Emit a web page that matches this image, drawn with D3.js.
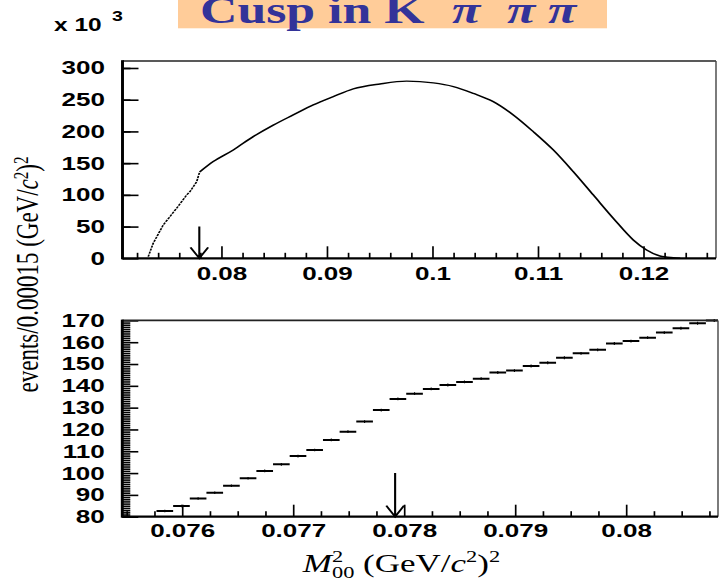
<!DOCTYPE html>
<html>
<head>
<meta charset="utf-8">
<script src="https://cdn.jsdelivr.net/npm/d3@7"></script>
<style>
    body { margin: 0; background: #fff; }
    svg { display: block; }
    .tick text { font-family: "Liberation Sans", Arial, sans-serif; font-weight: bold; font-size: 18.6px; fill: #000; }
    .serif { font-family: "Liberation Serif", "Times New Roman", serif; }
</style>
</head>
<body>
<div id="chart"></div>
<script>
// top panel: full M00^2 spectrum, events in units of 10^3 per bin
const topMass = [0.07308, 0.07355, 0.0745, 0.07577, 0.07672, 0.07703, 0.07767, 0.07795,
    0.07924, 0.08114, 0.08303, 0.08493, 0.08682, 0.08872, 0.09062, 0.09251, 0.09504,
    0.09757, 0.1001, 0.102, 0.10389, 0.10578, 0.10768, 0.10957, 0.11147, 0.11336,
    0.11526, 0.11716, 0.11905, 0.12031, 0.12158, 0.12284, 0.1235];
const topEvents = [2.5, 23.7, 52.5, 78.9, 99.8, 105, 120.8, 136,
    152.4, 170.8, 191.8, 210, 226, 241.8, 254.9, 267, 274.8,
    279.2, 276.5, 270.7, 260, 247, 226, 199.7, 170.8, 136.6,
    99.8, 63, 28.9, 13, 3.6, 1, 0.3];

// 2 m(pi+) squared, where the cusp sits
const cuspMass = 0.07792;

// bottom panel: zoom on the cusp, bins of 0.00015 GeV^2
const zoomFirstEdge = 0.07577;
const zoomBinWidth = 0.00015;
const zoomEvents = [82.6, 84.9, 88.4, 91.0, 94.2, 97.6, 101.0, 104.0, 107.8, 110.6,
    115.2, 119.0, 123.6, 128.9, 134.0, 136.4, 138.6, 140.4, 141.8, 143.3,
    146.1, 147.0, 149.1, 150.6, 152.9, 154.9, 156.5, 159.4, 160.5, 162.1,
    164.4, 166.4, 168.7, 169.9];

const topXTicks = [0.08, 0.09, 0.1, 0.11, 0.12];
const topXLabels = ["0.08", "0.09", "0.1", "0.11", "0.12"];
const topYTicks = [0, 50, 100, 150, 200, 250, 300];
const botXTicks = [0.076, 0.077, 0.078, 0.079, 0.08];
const botXLabels = ["0.076", "0.077", "0.078", "0.079", "0.08"];
const botYTicks = [80, 90, 100, 110, 120, 130, 140, 150, 160, 170];

// the original picture is stretched sideways, so draw in a narrower box and let the viewBox widen it
const S = 1.4;
const W = 719, H = 579;

const svg = d3.select("#chart")
    .append("svg")
    .attr("width", W)
    .attr("height", H)
    .attr("viewBox", `0 0 ${W / S} ${H}`)
    .attr("preserveAspectRatio", "none");

const topBox = { l: 122.5 / S, r: 716 / S, t: 61, b: 258.3 };
const botBox = { l: 122.3 / S, r: 718 / S, t: 320.4, b: 516.7 };

const xTop = d3.scaleLinear().domain([0.07064, 0.12689]).range([topBox.l, topBox.r]);
const yTop = d3.scaleLinear().domain([0, 311]).range([topBox.b, topBox.t]);
const xBot = d3.scaleLinear().domain([0.075462, 0.080829]).range([botBox.l, botBox.r]);
const yBot = d3.scaleLinear().domain([80, 170]).range([botBox.b, botBox.t]);

function minorTicks(lo, hi, step, majors) {
    return d3.range(Math.round(lo / step), Math.round(hi / step) + 1)
        .map(k => +(k * step).toFixed(6))
        .filter(v => !majors.some(m => Math.abs(m - v) < step / 10));
}

function drawAxes(box, x, y, xMaj, xLab, xMin, yMaj, yMin, xPad) {
    const gx = svg.append("g").attr("transform", `translate(0,${box.b})`);
    gx.append("g")
        .call(d3.axisBottom(x).tickValues(xMin).tickFormat("").tickSize(-5.5).tickSizeOuter(0))
        .call(g => g.select(".domain").remove());
    gx.append("g")
        .call(d3.axisBottom(x).tickValues(xMaj).tickFormat((d, i) => xLab[i])
            .tickSize(-12).tickPadding(xPad).tickSizeOuter(0))
        .call(g => g.select(".domain").remove());
    gx.selectAll("line").attr("stroke", "#000").attr("stroke-width", 1.2);

    const gy = svg.append("g").attr("transform", `translate(${box.l},0)`);
    gy.append("g")
        .call(d3.axisLeft(y).tickValues(yMin).tickFormat("").tickSize(-8 / S).tickSizeOuter(0))
        .call(g => g.select(".domain").remove());
    gy.append("g")
        .call(d3.axisLeft(y).tickValues(yMaj).tickSize(-16 / S).tickPadding(12.5).tickSizeOuter(0))
        .call(g => g.select(".domain").remove());
    gy.selectAll("line").attr("stroke", "#000").attr("stroke-width", 1.6);
}

function drawFrame(box) {
    const f = svg.append("g").attr("fill", "none");
    f.append("line").attr("x1", box.l).attr("x2", box.r).attr("y1", box.t).attr("y2", box.t)
        .attr("stroke", "#222").attr("stroke-width", 1.6);
    f.append("line").attr("x1", box.r).attr("x2", box.r).attr("y1", box.t).attr("y2", box.b)
        .attr("stroke", "#444").attr("stroke-width", 1);
    f.append("line").attr("x1", box.l).attr("x2", box.l).attr("y1", box.t - 0.8).attr("y2", box.b + 1)
        .attr("stroke", "#000").attr("stroke-width", 2.1);
    f.append("line").attr("x1", box.l).attr("x2", box.r).attr("y1", box.b).attr("y2", box.b)
        .attr("stroke", "#000").attr("stroke-width", 2.2);
}

function drawArrow(x, y, xv, yFrom, yTo) {
    const px = x(xv), y0 = y(yFrom), y1 = y(yTo);
    svg.append("path")
        .attr("d", `M${px},${y0}V${y1}M${px - 6.3},${y1 - 11}L${px},${y1}L${px + 6.3},${y1 - 11}`)
        .attr("fill", "none")
        .attr("stroke", "#000")
        .attr("stroke-width", 1.5);
}

// ---- title strip (cut at the top of the page) ----
svg.append("rect")
    .attr("x", 178 / S).attr("y", 0)
    .attr("width", (607 - 178) / S).attr("height", 28.3)
    .attr("fill", "#ffcc99");

const title = svg.append("text")
    .attr("class", "serif")
    .attr("y", 22.5)
    .attr("font-size", 37)
    .attr("font-weight", "bold")
    .attr("fill", "#333399");
title.append("tspan").attr("x", 200 / S).text("Cusp in K");
[452, 507, 548].forEach(sx => {
    title.append("tspan").attr("x", sx / S).attr("font-style", "italic").text("π");
});

// ---- multiplier label ----
const mult = svg.append("text")
    .attr("x", 54 / S).attr("y", 31)
    .attr("font-family", "Liberation Sans, Arial, sans-serif")
    .attr("font-weight", "bold")
    .attr("font-size", 17.5);
mult.append("tspan").text("x 10");
mult.append("tspan").attr("x", 112 / S).attr("dy", -10).attr("font-size", 14).text("3");

// ---- top panel ----
drawAxes(topBox, xTop, yTop, topXTicks, topXLabels, minorTicks(0.072, 0.126, 0.002, topXTicks),
    topYTicks, minorTicks(25, 275, 50, []), 8);

const cuspIndex = topMass.findIndex(m => m >= cuspMass);

svg.append("path")
    .datum(topEvents.slice(0, cuspIndex + 1))
    .attr("d", d3.line().x((d, i) => xTop(topMass[i])).y(d => yTop(d)))
    .attr("fill", "none")
    .attr("stroke", "#000")
    .attr("stroke-width", 1.2)
    .attr("stroke-dasharray", "2.2 0.9");

svg.append("path")
    .datum(topEvents.slice(cuspIndex))
    .attr("d", d3.line().x((d, i) => xTop(topMass[i + cuspIndex])).y(d => yTop(d)).curve(d3.curveMonotoneX))
    .attr("fill", "none")
    .attr("stroke", "#000")
    .attr("stroke-width", 1.4)
    .attr("stroke-linejoin", "round");

drawFrame(topBox);
drawArrow(xTop, yTop, cuspMass, 50, 0);

// ---- bottom panel ----
drawAxes(botBox, xBot, yBot, botXTicks, botXLabels, minorTicks(0.0755, 0.0808, 0.00025, botXTicks),
    botYTicks, minorTicks(81, 169, 1, botYTicks), 7.5);

svg.append("clipPath").attr("id", "botClip")
    .append("rect")
    .attr("x", botBox.l).attr("y", botBox.t - 2)
    .attr("width", botBox.r - botBox.l).attr("height", botBox.b - botBox.t + 2);

const bins = zoomEvents.map((v, i) => ({
    lo: zoomFirstEdge + i * zoomBinWidth,
    hi: zoomFirstEdge + (i + 1) * zoomBinWidth,
    v: v,
    err: Math.sqrt(v * 1000) / 1000
}));

const hist = svg.append("g").attr("clip-path", "url(#botClip)");

hist.selectAll(".step")
    .data(bins)
    .enter()
    .append("line")
    .attr("class", "step")
    .attr("x1", d => xBot(d.lo))
    .attr("x2", d => xBot(d.hi))
    .attr("y1", d => yBot(d.v))
    .attr("y2", d => yBot(d.v))
    .attr("stroke", "#000")
    .attr("stroke-width", 2);

hist.selectAll(".err")
    .data(bins)
    .enter()
    .append("line")
    .attr("class", "err")
    .attr("x1", d => xBot((d.lo + d.hi) / 2))
    .attr("x2", d => xBot((d.lo + d.hi) / 2))
    .attr("y1", d => yBot(d.v - d.err) + 0.6)
    .attr("y2", d => yBot(d.v + d.err) - 0.6)
    .attr("stroke", "#000")
    .attr("stroke-width", 0.8);

drawFrame(botBox);
drawArrow(xBot, yBot, cuspMass, 100, 80);

// ---- axis titles ----
const yTitle = svg.append("text")
    .attr("class", "serif")
    .attr("font-size", 23)
    .attr("text-anchor", "middle")
    .attr("transform", `translate(${37.5 / S},274.5) rotate(-90)`);
yTitle.append("tspan").text("events/0.00015 (GeV/");
yTitle.append("tspan").attr("font-style", "italic").text("c");
yTitle.append("tspan").attr("font-size", 15).attr("dy", -7).text("2");
yTitle.append("tspan").attr("dy", 7).text(")");
yTitle.append("tspan").attr("font-size", 15).attr("dy", -7).text("2");

const xTitle = svg.append("text")
    .attr("class", "serif")
    .attr("font-size", 25)
    .attr("text-anchor", "middle")
    .attr("x", 401.5 / S)
    .attr("y", 571.7);
xTitle.append("tspan").attr("font-style", "italic").text("M");
xTitle.append("tspan").attr("font-size", 16).attr("dy", -10).text("2");
xTitle.append("tspan").attr("font-size", 16).attr("dx", -8).attr("dy", 16).text("00");
xTitle.append("tspan").attr("dy", -6).text("  (GeV/");
xTitle.append("tspan").attr("font-style", "italic").text("c");
xTitle.append("tspan").attr("font-size", 16).attr("dy", -10).text("2");
xTitle.append("tspan").attr("dy", 10).text(")");
xTitle.append("tspan").attr("font-size", 16).attr("dy", -10).text("2");
</script>
</body>
</html>
